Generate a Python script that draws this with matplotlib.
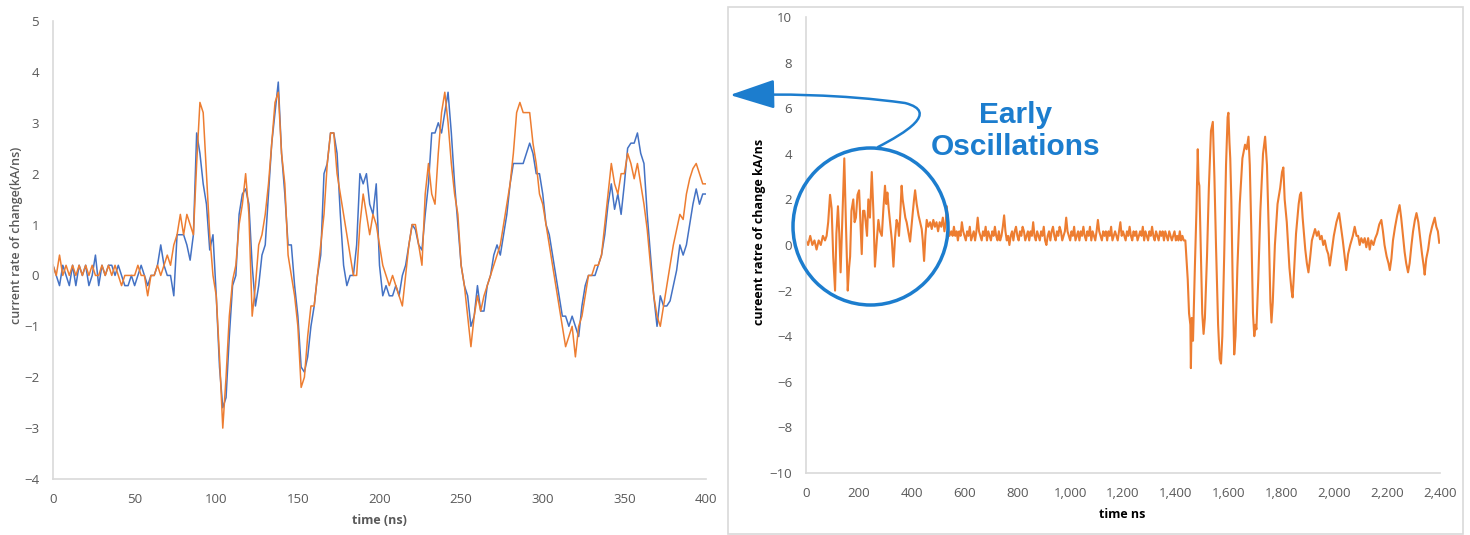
import numpy as np
import matplotlib
matplotlib.use('Agg')
from matplotlib import pyplot as plt
from matplotlib.path import Path
from matplotlib.patches import FancyArrowPatch, Ellipse, Rectangle

# ---- left panel: zoomed view, 0-400 ns, sampled every 2 ns ----
t_zoom = np.arange(0, 401, 2)

orange_zoom = [
    0.2, 0.0, 0.4, 0.0, 0.2, 0.0, 0.2, 0.0, 0.2, 0.0,
    0.2, 0.0, 0.2, 0.0, 0.0, 0.2, 0.0, 0.2, 0.0, 0.2,
    0.0, -0.2, 0.0, 0.0, 0.0, 0.0, 0.2, 0.0, 0.0, -0.4,
    0.0, 0.0, 0.2, 0.0, 0.2, 0.4, 0.2, 0.6, 0.8, 1.2,
    0.8, 1.2, 1.0, 0.8, 2.2, 3.4, 3.2, 2.0, 0.8, 0.0,
    -0.4, -1.6, -3.0, -2.0, -0.8, -0.1, 0.2, 1.0, 1.4, 2.0,
    1.2, -0.8, -0.2, 0.6, 0.8, 1.2, 1.8, 2.6, 3.4, 3.6,
    2.4, 1.8, 0.4, 0.0, -0.4, -1.0, -2.2, -2.0, -1.2, -0.6,
    -0.6, 0.0, 0.6, 1.2, 2.2, 2.8, 2.8, 2.0, 1.6, 1.2,
    0.8, 0.4, 0.0, 0.0, 1.0, 1.6, 1.2, 0.8, 1.2, 1.0,
    0.6, 0.2, 0.0, -0.2, 0.0, -0.2, -0.4, -0.6, 0.0, 0.6,
    1.0, 1.0, 0.6, 0.2, 1.6, 2.2, 1.6, 1.4, 2.4, 3.2,
    3.6, 3.0, 2.2, 1.6, 1.2, 0.2, -0.2, -0.8, -1.4, -0.8,
    -0.4, -0.7, -0.4, -0.2, 0.0, 0.2, 0.4, 0.6, 1.0, 1.4,
    1.8, 2.4, 3.2, 3.4, 3.2, 3.2, 3.2, 2.6, 2.2, 1.6,
    1.4, 1.0, 0.6, 0.2, -0.2, -0.6, -1.0, -1.4, -1.2, -1.0,
    -1.6, -1.0, -0.8, -0.4, 0.0, 0.0, 0.2, 0.2, 0.4, 1.0,
    1.6, 2.2, 1.8, 1.6, 2.0, 2.0, 2.4, 2.2, 1.9, 2.2,
    1.8, 1.4, 0.9, 0.2, -0.4, -0.8, -1.0, -0.6, -0.2, 0.2,
    0.6, 0.9, 1.2, 1.1, 1.6, 1.9, 2.1, 2.2, 2.0, 1.8,
    1.8,
]

blue_zoom = [
    0.2, 0.0, -0.2, 0.2, 0.0, -0.2, 0.2, -0.2, 0.2, 0.0,
    0.2, -0.2, 0.0, 0.4, -0.2, 0.2, 0.0, 0.2, 0.2, 0.0,
    0.2, 0.0, -0.2, -0.2, 0.0, -0.2, 0.0, 0.2, 0.0, -0.2,
    0.0, 0.0, 0.2, 0.6, 0.2, 0.0, 0.0, -0.4, 0.8, 0.8,
    0.8, 0.6, 0.3, 0.8, 2.8, 2.4, 1.8, 1.4, 0.5, 0.8,
    -0.4, -1.8, -2.6, -2.4, -1.2, -0.2, 0.0, 1.2, 1.6, 1.7,
    1.4, 0.2, -0.6, -0.2, 0.4, 0.6, 1.6, 2.6, 3.2, 3.8,
    2.4, 1.6, 0.6, 0.6, -0.2, -0.8, -1.8, -1.9, -1.6, -1.0,
    -0.6, 0.0, 0.4, 2.0, 2.2, 2.8, 2.8, 2.4, 1.2, 0.2,
    -0.2, 0.0, 0.0, 0.6, 2.0, 1.8, 2.0, 1.4, 1.2, 1.8,
    0.2, -0.4, -0.2, -0.4, -0.4, -0.2, -0.4, 0.0, 0.2, 0.6,
    1.0, 0.9, 0.6, 0.5, 1.2, 1.8, 2.8, 2.8, 3.0, 2.8,
    3.2, 3.6, 2.8, 1.8, 1.0, 0.2, -0.2, -0.4, -1.0, -0.8,
    -0.2, -0.7, -0.7, -0.2, 0.0, 0.4, 0.6, 0.4, 0.8, 1.2,
    1.8, 2.2, 2.2, 2.2, 2.2, 2.4, 2.6, 2.4, 2.0, 2.0,
    1.6, 1.0, 0.8, 0.4, 0.0, -0.4, -0.8, -0.8, -1.0, -0.8,
    -1.0, -1.2, -0.6, -0.2, 0.0, 0.0, 0.0, 0.2, 0.4, 0.8,
    1.4, 1.8, 1.3, 1.6, 1.2, 1.8, 2.5, 2.6, 2.6, 2.8,
    2.4, 2.2, 1.2, 0.4, -0.4, -1.0, -0.4, -0.6, -0.6, -0.5,
    -0.2, 0.1, 0.6, 0.4, 0.6, 1.0, 1.4, 1.7, 1.4, 1.6,
    1.6,
]

# ---- right panel: full record, 0-2400 ns ----
t_early = [0, 8, 16, 24, 32, 40, 48, 56, 64, 72, 78, 84, 91, 97, 103, 110,
           115, 121, 126, 131, 137, 145, 151, 158, 163, 167, 172, 179, 184,
           189, 195, 201, 206, 211, 216, 221, 226, 231, 236, 242, 249, 255,
           261, 268, 274, 280, 287, 293, 299, 304, 308, 313, 318, 325, 331,
           337, 343, 348, 352, 357, 362, 366, 371, 376, 381, 387, 394, 399,
           404, 409, 413, 419, 426, 432, 438, 442, 447, 452, 457, 463, 470,
           476, 482, 488, 494, 500, 506, 512, 518, 524, 529, 533, 538, 543]
v_early = [0.2, 0.0, 0.4, 0.0, 0.2, -0.2, 0.2, 0.0, 0.4, 0.2, 0.4, 1.0, 2.2,
           1.6, -0.5, -2.0, 0.5, 1.7, 0.5, -1.2, 1.0, 3.8, 1.0, -2.0, -1.0,
           -0.5, 1.5, 2.0, 1.0, 1.2, 2.2, 2.4, 1.0, -0.4, 1.5, 1.5, 1.0, 0.4,
           2.0, 1.2, 3.2, 1.5, -0.95, 0.2, 1.1, 0.6, 0.4, 1.6, 2.6, 1.8, 2.3,
           1.6, 1.0, 0.2, -0.95, 0.3, 1.1, 0.9, 0.4, 1.4, 2.6, 2.0, 1.6, 1.2,
           1.0, 0.6, 0.15, 0.8, 1.4, 2.0, 2.4, 1.8, 1.3, 1.0, 0.7, 0.2, -0.7,
           0.4, 1.1, 0.8, 1.0, 0.7, 1.1, 0.8, 1.0, 0.6, 1.0, 0.8, 1.2, 0.6,
           1.0, 1.7, 0.8, 0.4]

t_quiet = list(range(550, 1431, 5))
v_quiet = [0.6, 0.4, 0.8, 0.4, 0.6, 0.2, 0.6, 0.4, 1.0, 0.6,
           0.4, 0.2, 0.6, 0.4, 0.8, 0.2, 0.4, 0.6, 0.2, 0.6,
           1.2, 0.6, 0.4, 0.2, 0.6, 0.4, 0.8, 0.2, 0.6, 0.4,
           0.2, 0.6, 0.4, 0.8, 0.4, 0.2, 0.6, 0.2, 0.4, 0.8,
           1.3, 0.6, 0.2, 0.4, 0.0, 0.4, 0.6, 0.2, 0.6, 0.8,
           0.4, 0.2, 0.6, 0.4, 0.8, 0.6, 0.2, 0.4, 0.6, 0.2,
           0.6, 0.4, 1.0, 0.4, 0.2, 0.6, 0.4, 0.2, 0.6, 0.4,
           0.8, 0.2, 0.0, 0.4, 0.6, 0.2, 0.6, 0.8, 0.4, 0.2,
           0.6, 0.4, 0.8, 0.6, 0.2, 0.4, 0.6, 1.2, 0.6, 0.4,
           0.2, 0.6, 0.4, 0.8, 0.2, 0.4, 0.6, 0.2, 0.6, 0.4,
           0.8, 0.4, 0.2, 0.6, 0.4, 0.8, 0.2, 0.6, 0.4, 0.2,
           0.6, 1.1, 0.6, 0.4, 0.2, 0.6, 0.4, 0.6, 0.2, 0.6,
           0.4, 0.8, 0.2, 0.4, 0.6, 0.4, 0.2, 0.6, 1.0, 0.4,
           0.6, 0.4, 0.2, 0.6, 0.4, 0.8, 0.4, 0.2, 0.6, 0.4,
           0.6, 0.2, 0.4, 0.6, 0.4, 0.8, 0.2, 0.6, 0.4, 0.2,
           0.6, 0.4, 0.8, 0.4, 0.2, 0.6, 0.4, 0.2, 0.6, 0.4,
           0.6, 0.2, 0.6, 0.4, 0.2, 0.6, 0.4, 0.2, 0.4, 0.6,
           0.2, 0.4, 0.2, 0.6, 0.2, 0.4, 0.2]

t_late = [1436, 1445, 1450, 1455, 1457, 1460, 1465, 1472, 1478, 1483, 1486,
          1489, 1495, 1500, 1505, 1510, 1518, 1525, 1533, 1540, 1546, 1552,
          1560, 1566, 1571, 1576, 1583, 1590, 1596, 1599, 1603, 1606, 1610,
          1615, 1621, 1626, 1633, 1642, 1652, 1662, 1668, 1675, 1680, 1686,
          1692, 1697, 1702, 1705, 1712, 1720, 1730, 1738, 1745, 1752, 1758,
          1762, 1767, 1775, 1785, 1795, 1802, 1807, 1812, 1820, 1830, 1838,
          1842, 1846, 1855, 1865, 1870, 1874, 1880, 1890, 1896, 1902, 1908,
          1915, 1922, 1927, 1934, 1940, 1946, 1952, 1958, 1964, 1971, 1977,
          1983, 1990, 1998, 2008, 2018, 2025, 2032, 2040, 2045, 2052, 2060,
          2070, 2077, 2084, 2090, 2096, 2102, 2109, 2115, 2121, 2128, 2134,
          2140, 2148, 2155, 2162, 2170, 2178, 2184, 2190, 2198, 2205, 2210,
          2216, 2222, 2230, 2238, 2247, 2253, 2260, 2266, 2272, 2279, 2285,
          2292, 2298, 2305, 2311, 2318, 2325, 2332, 2338, 2342, 2348, 2355,
          2362, 2370, 2375, 2380, 2386, 2392, 2397]
v_late = [0.2, -1.5, -3.0, -3.5, -5.4, -3.2, -4.2, -1.0, 1.5, 4.2, 2.8,
          2.6, -0.5, -3.0, -3.9, -3.2, -0.5, 2.5, 5.0, 5.4, 3.0, 0.0,
          -3.5, -5.0, -5.2, -4.0, -0.5, 3.5, 5.6, 5.8, 4.5, 3.8, 2.0,
          -1.5, -4.8, -4.0, -1.0, 1.8, 3.8, 4.4, 4.2, 4.75, 3.5, 0.5,
          -3.0, -4.0, -3.5, -3.7, -1.5, 1.5, 4.0, 4.75, 3.5, 0.5, -2.5,
          -3.4, -2.5, 0.0, 1.8, 2.5, 3.2, 3.4, 2.0, 1.0, -1.0, -2.0,
          -2.3, -1.5, 0.5, 1.8, 2.2, 2.3, 1.2, -0.2, -0.8, -1.2, -0.6,
          0.2, 0.5, 0.7, 0.4, 0.6, 0.25, 0.4, 0.0, 0.2, -0.2, -0.4,
          -0.9, -0.3, 0.4, 1.0, 1.4, 0.8, 0.2, -0.6, -1.1, -0.4, 0.0,
          0.4, 0.8, 0.4, 0.4, 0.0, 0.3, 0.1, 0.3, -0.1, 0.3, -0.2,
          0.2, 0.0, 0.3, 0.5, 0.9, 1.1, 0.6, 0.0, -0.5, -0.8, -1.1,
          -0.6, 0.2, 0.8, 1.3, 1.75, 1.2, 0.4, -0.3, -0.8, -1.2, -0.8,
          0.0, 0.6, 1.1, 1.4, 1.0, 0.3, -0.4, -0.9, -1.3, -0.6, -0.2,
          0.4, 0.8, 1.0, 1.2, 0.8, 0.6, 0.1]

t_full = t_early + t_quiet + t_late
v_full = v_early + v_quiet + v_late

ORANGE = '#ED7D31'
BLUE = '#4472C4'
ANNOT = '#1C7DCE'
GRID_GREY = '#D9D9D9'
TICK_GREY = '#595959'

W, H = 1470, 535
plt.rcParams['font.family'] = ['Open Sans', 'DejaVu Sans']

fig = plt.figure(figsize=(W / 100, H / 100), dpi=100)


def px(x, y):
  return (x / W, 1 - y / H)


def style_axes(ax):
  for side in ('top', 'right'):
    ax.spines[side].set_visible(False)
  for side in ('left', 'bottom'):
    ax.spines[side].set_color(GRID_GREY)
    ax.spines[side].set_linewidth(1.2)
  ax.tick_params(axis='both', length=0, labelsize=9.5, labelcolor=TICK_GREY,
                 pad=10)


# left chart
ax1 = fig.add_axes([53 / W, 1 - 479 / H, (706 - 53) / W, (479 - 21) / H])
ax1.plot(t_zoom, blue_zoom, color=BLUE, lw=1.1)
ax1.plot(t_zoom, orange_zoom, color=ORANGE, lw=1.1)
ax1.set_xlim(0, 400)
ax1.set_ylim(-4, 5)
ax1.set_xticks(np.arange(0, 401, 50))
ax1.set_yticks(np.arange(-4, 6, 1))
style_axes(ax1)
fig.text(*px(17, 235), 'current rate of change(kA/ns)', rotation=90,
         ha='center', va='center', fontsize=9, color=TICK_GREY,
         fontweight='semibold')
fig.text(*px(379, 520), 'time (ns)', ha='center', va='center', fontsize=9,
         color=TICK_GREY, fontweight='bold')

# right chart with its frame
fig.patches.append(Rectangle(px(728, 534), (1463 - 728) / W, (534 - 7) / H,
                             transform=fig.transFigure, fill=False,
                             edgecolor=GRID_GREY, lw=1.2))
ax2 = fig.add_axes([806 / W, 1 - 473 / H, (1440 - 806) / W, (473 - 17) / H])
ax2.plot(t_full, v_full, color=ORANGE, lw=1.5)
ax2.set_xlim(0, 2400)
ax2.set_ylim(-10, 10)
ax2.set_xticks(np.arange(0, 2401, 200))
ax2.set_yticks(np.arange(-10, 11, 2))
ax2.set_xticklabels([f'{v:,}' for v in range(0, 2401, 200)])
style_axes(ax2)
fig.text(*px(759, 232), 'cureent ratre of change kA/ns', rotation=90,
         ha='center', va='center', fontsize=9, color='black',
         fontweight='bold')
fig.text(*px(1122, 515), 'time ns', ha='center', va='center', fontsize=9,
         color='black', fontweight='bold')

# annotation: circle, looping arrow, label
cx, cy = px(870.5, 226.5)
fig.patches.append(Ellipse((cx, cy), 155 / W, 157 / H,
                           transform=fig.transFigure, fill=False,
                           edgecolor=ANNOT, lw=2.5))
verts = [px(878, 147), px(905, 133), px(940, 112), px(905, 103),
         px(840, 94), px(780, 94), px(730, 95)]
codes = [Path.MOVETO, Path.CURVE4, Path.CURVE4, Path.CURVE4,
         Path.CURVE4, Path.CURVE4, Path.CURVE4]
arrow = FancyArrowPatch(path=Path(verts, codes), transform=fig.transFigure,
                        arrowstyle='-|>,head_length=2.0,head_width=0.65',
                        mutation_scale=14, color=ANNOT, lw=1.8)
fig.patches.append(arrow)
fig.text(*px(1016, 131), 'Early\nOscillations', ha='center', va='center',
         fontsize=21.5, color=ANNOT, fontweight='bold',
         family=['Liberation Sans', 'DejaVu Sans'], linespacing=1.2)

fig.savefig('out.png', dpi=100)
